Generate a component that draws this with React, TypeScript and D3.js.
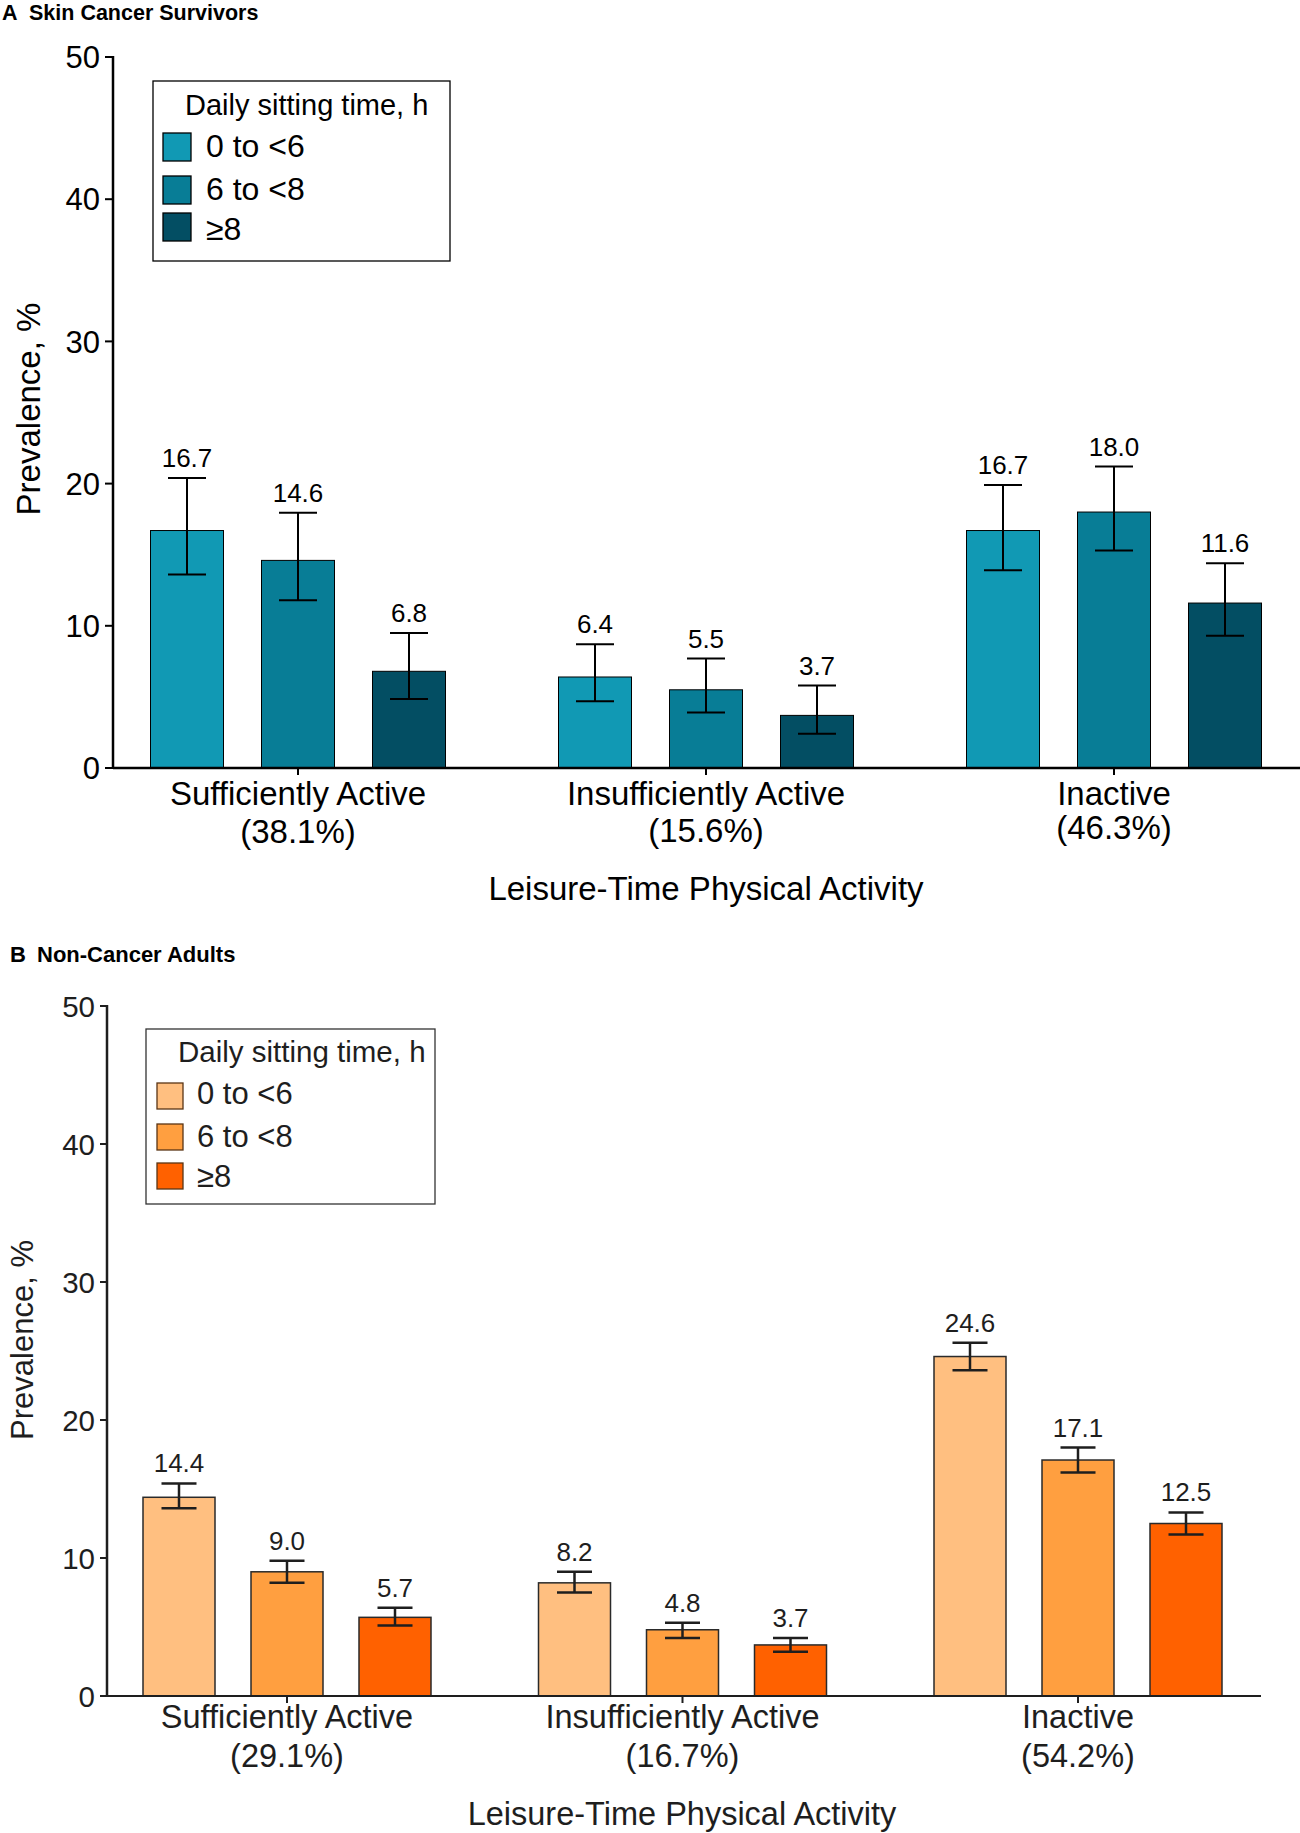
import React from "react";
import * as d3 from "d3";

// ---------- data ----------
const groupsA = ["Sufficiently Active", "Insufficiently Active", "Inactive"];
const groupPctA = ["(38.1%)", "(15.6%)", "(46.3%)"];
const groupsB = ["Sufficiently Active", "Insufficiently Active", "Inactive"];
const groupPctB = ["(29.1%)", "(16.7%)", "(54.2%)"];
const sittingLevels = ["0 to <6", "6 to <8", "≥8"];

const meanA = [
  [16.7, 14.6, 6.8],
  [6.4, 5.5, 3.7],
  [16.7, 18.0, 11.6],
];
const lowerA = [
  [13.6, 11.8, 4.85],
  [4.7, 3.9, 2.4],
  [13.9, 15.3, 9.3],
];
const upperA = [
  [20.4, 17.95, 9.5],
  [8.7, 7.7, 5.8],
  [19.9, 21.2, 14.4],
];

const meanB = [
  [14.4, 9.0, 5.7],
  [8.2, 4.8, 3.7],
  [24.6, 17.1, 12.5],
];
const lowerB = [
  [13.6, 8.2, 5.1],
  [7.5, 4.2, 3.2],
  [23.6, 16.2, 11.7],
];
const upperB = [
  [15.4, 9.8, 6.4],
  [9.0, 5.3, 4.2],
  [25.6, 18.0, 13.3],
];

const yTicks = [0, 10, 20, 30, 40, 50];
const colorsA = ["#1199B4", "#087D96", "#034E63"];
const colorsB = ["#FFBF80", "#FF9F40", "#FF6100"];

const FONT = "'Liberation Sans', Arial, Helvetica, sans-serif";

type PanelCfg = {
  letter: string;
  letterX: number;
  title: string;
  titleX: number;
  titleY: number;
  titleSize: number;
  groups: string[];
  pct: string[];
  mean: number[][];
  lower: number[][];
  upper: number[][];
  colors: string[];
  axisX: number;
  axisRight: number;
  y0: number;
  y50: number;
  groupRange: [number, number];
  step: number;
  barW: number;
  capW: number;
  ink: string;
  axisW: number;
  xAxisW: number;
  barStroke: string;
  barStrokeW: number;
  errW: number;
  tickFont: number;
  tickLen: number;
  tickGap: number;
  valueFont: number;
  valueGap: number;
  catFont: number;
  catLine1: number;
  catLine2: number[];
  axisTitleDy: number;
  axisTitleX: number;
  yLabelX: number;
  yLabelY: number;
  yLabelFont: number;
  legend: {
    x: number;
    y: number;
    w: number;
    h: number;
    titleX: number;
    titleY: number;
    titleFont: number;
    swX: number;
    swW: number;
    swH: number;
    swY: number[];
    labX: number;
    labY: number[];
    labFont: number;
    border: string;
    swStroke: string;
  };
};

function Panel({ c }: { c: PanelCfg }) {
  const y = d3.scaleLinear().domain([0, 50]).range([c.y0, c.y50]);
  const xg = d3.scalePoint<string>().domain(c.groups).range(c.groupRange);
  const pad = (c.step - c.barW) / c.step;
  const half = (c.step * 3) / 2;
  const xi = d3
    .scaleBand<string>()
    .domain(sittingLevels)
    .range([-half, half])
    .paddingInner(pad)
    .paddingOuter(pad / 2);
  const bw = xi.bandwidth();

  return (
    <g fontFamily={FONT} fill={c.ink}>
      {/* panel title */}
      <text x={c.letterX} y={c.titleY} fontSize={c.titleSize} fontWeight="bold" fill="#000">
        {c.letter}
      </text>
      <text x={c.titleX} y={c.titleY} fontSize={c.titleSize} fontWeight="bold" fill="#000">
        {c.title}
      </text>

      {/* y label */}
      <text
        transform={`translate(${c.yLabelX},${c.yLabelY}) rotate(-90)`}
        textAnchor="middle"
        fontSize={c.yLabelFont}
      >
        Prevalence, %
      </text>

      {/* y ticks */}
      {yTicks.map((t) => (
        <g key={t}>
          <line
            x1={c.axisX - c.tickLen}
            x2={c.axisX}
            y1={y(t)}
            y2={y(t)}
            stroke={c.ink}
            strokeWidth={2}
          />
          <text
            x={c.axisX - c.tickLen - c.tickGap}
            y={y(t)}
            dy="0.36em"
            textAnchor="end"
            fontSize={c.tickFont}
          >
            {t}
          </text>
        </g>
      ))}

      {/* bars */}
      {c.groups.map((g, gi) =>
        sittingLevels.map((s, si) => {
          const x = (xg(g) as number) + (xi(s) as number);
          const v = c.mean[gi][si];
          return (
            <rect
              key={g + s}
              x={x}
              y={y(v)}
              width={bw}
              height={y(0) - y(v)}
              fill={c.colors[si]}
              stroke={c.barStroke}
              strokeWidth={c.barStrokeW}
            />
          );
        })
      )}

      {/* error bars + value labels */}
      {c.groups.map((g, gi) =>
        sittingLevels.map((s, si) => {
          const cx = (xg(g) as number) + (xi(s) as number) + bw / 2;
          const lo = y(c.lower[gi][si]);
          const hi = y(c.upper[gi][si]);
          return (
            <g key={"e" + g + s}>
              <line x1={cx} x2={cx} y1={lo} y2={hi} stroke={c.ink} strokeWidth={c.errW} />
              <line x1={cx - c.capW / 2} x2={cx + c.capW / 2} y1={lo} y2={lo} stroke={c.ink} strokeWidth={c.errW} />
              <line x1={cx - c.capW / 2} x2={cx + c.capW / 2} y1={hi} y2={hi} stroke={c.ink} strokeWidth={c.errW} />
              <text x={cx} y={hi - c.valueGap} textAnchor="middle" fontSize={c.valueFont}>
                {c.mean[gi][si].toFixed(1)}
              </text>
            </g>
          );
        })
      )}

      {/* axes */}
      <line x1={c.axisX} x2={c.axisX} y1={y(50) - 1} y2={y(0) + 1} stroke={c.ink} strokeWidth={c.axisW} />
      <line x1={c.axisX} x2={c.axisRight} y1={y(0)} y2={y(0)} stroke={c.ink} strokeWidth={c.xAxisW} />
      {c.groups.map((g, gi) => (
        <g key={"x" + g}>
          <line
            x1={xg(g) as number}
            x2={xg(g) as number}
            y1={y(0)}
            y2={y(0) + 7}
            stroke={c.ink}
            strokeWidth={2}
          />
          <text x={xg(g) as number} y={y(0) + c.catLine1} textAnchor="middle" fontSize={c.catFont}>
            {g}
          </text>
          <text
            x={xg(g) as number}
            y={y(0) + c.catLine1 + c.catLine2[gi]}
            textAnchor="middle"
            fontSize={c.catFont}
          >
            {c.pct[gi]}
          </text>
        </g>
      ))}
      <text x={c.axisTitleX} y={y(0) + c.axisTitleDy} textAnchor="middle" fontSize={c.catFont}>
        Leisure-Time Physical Activity
      </text>

      {/* legend */}
      <rect
        x={c.legend.x}
        y={c.legend.y}
        width={c.legend.w}
        height={c.legend.h}
        fill="#fff"
        stroke={c.legend.border}
        strokeWidth={1.3}
      />
      <text x={c.legend.titleX} y={c.legend.titleY} fontSize={c.legend.titleFont}>
        Daily sitting time, h
      </text>
      {sittingLevels.map((s, si) => (
        <g key={"l" + s}>
          <rect
            x={c.legend.swX}
            y={c.legend.swY[si]}
            width={c.legend.swW}
            height={c.legend.swH}
            fill={c.colors[si]}
            stroke={c.legend.swStroke}
            strokeWidth={1.3}
          />
          <text x={c.legend.labX} y={c.legend.labY[si]} fontSize={c.legend.labFont}>
            {s}
          </text>
        </g>
      ))}
    </g>
  );
}

const panelA: PanelCfg = {
  letter: "A",
  letterX: 2,
  title: "Skin Cancer Survivors",
  titleX: 29,
  titleY: 19.5,
  titleSize: 21.5,
  groups: groupsA,
  pct: groupPctA,
  mean: meanA,
  lower: lowerA,
  upper: upperA,
  colors: colorsA,
  axisX: 113,
  axisRight: 1300,
  y0: 768,
  y50: 57,
  groupRange: [298, 1114],
  step: 111,
  barW: 73,
  capW: 38,
  ink: "#000",
  axisW: 2.5,
  xAxisW: 2.5,
  barStroke: "#000",
  barStrokeW: 1,
  errW: 2,
  tickFont: 31,
  tickLen: 8,
  tickGap: 5,
  valueFont: 26,
  valueGap: 11,
  catFont: 33,
  catLine1: 37,
  catLine2: [38, 37, 34],
  axisTitleDy: 132,
  axisTitleX: 706,
  yLabelX: 40,
  yLabelY: 409,
  yLabelFont: 33,
  legend: {
    x: 153,
    y: 81,
    w: 297,
    h: 180,
    titleX: 185,
    titleY: 115,
    titleFont: 29,
    swX: 163,
    swW: 28,
    swH: 28,
    swY: [133, 176, 213],
    labX: 206,
    labY: [157, 200, 240],
    labFont: 32,
    border: "#000",
    swStroke: "#000",
  },
};

const panelB: PanelCfg = {
  letter: "B",
  letterX: 10,
  title: "Non-Cancer Adults",
  titleX: 37,
  titleY: 962,
  titleSize: 22,
  groups: groupsB,
  pct: groupPctB,
  mean: meanB,
  lower: lowerB,
  upper: upperB,
  colors: colorsB,
  axisX: 107,
  axisRight: 1261,
  y0: 1696,
  y50: 1006,
  groupRange: [287, 1078],
  step: 108,
  barW: 72,
  capW: 35,
  ink: "#1e1e1e",
  axisW: 2.5,
  xAxisW: 1.8,
  barStroke: "#2a2a2a",
  barStrokeW: 1.5,
  errW: 2.5,
  tickFont: 29.5,
  tickLen: 7,
  tickGap: 5,
  valueFont: 26,
  valueGap: 11,
  catFont: 32.5,
  catLine1: 32,
  catLine2: [39, 39, 39],
  axisTitleDy: 129,
  axisTitleX: 682,
  yLabelX: 33,
  yLabelY: 1340,
  yLabelFont: 31,
  legend: {
    x: 146,
    y: 1029,
    w: 289,
    h: 175,
    titleX: 178,
    titleY: 1062,
    titleFont: 29.5,
    swX: 157,
    swW: 26,
    swH: 26,
    swY: [1083, 1124, 1163],
    labX: 197,
    labY: [1104, 1147, 1187],
    labFont: 31,
    border: "#333",
    swStroke: "#5a3514",
  },
};

export default function App() {
  return (
    <svg
      width={1300}
      height={1833}
      viewBox="0 0 1300 1833"
      style={{ position: "absolute", left: 0, top: 0, display: "block", background: "#fff" }}
    >
      <rect x={0} y={0} width={1300} height={1833} fill="#fff" />
      <Panel c={panelA} />
      <Panel c={panelB} />
    </svg>
  );
}
